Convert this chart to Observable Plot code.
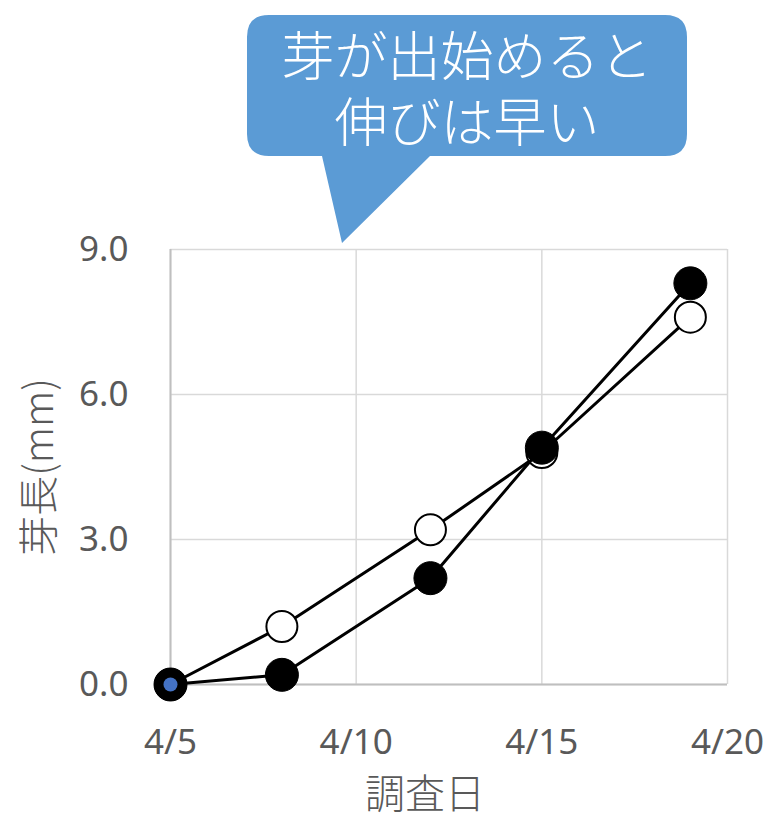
<!DOCTYPE html>
<html>
<head>
<meta charset="utf-8">
<script src="https://cdn.jsdelivr.net/npm/d3@7"></script>
<script src="https://cdn.jsdelivr.net/npm/@observablehq/plot@0.6"></script>
<style>
  html, body { margin: 0; padding: 0; background: #fff; }
  #chart { width: 772px; height: 820px; }
</style>
</head>
<body>
<div id="chart"></div>
<script>
// Survey dates and sprout lengths (mm) for the two plots
const dates = ["4/5", "4/8", "4/12", "4/15", "4/19"];
const openSeries = [0, 1.2, 3.2, 4.8, 7.6];
const filledSeries = [0, 0.2, 2.2, 4.9, 8.3];
const xTicks = ["4/5", "4/10", "4/15", "4/20"];
const yTicks = [0, 3, 6, 9];
const calloutLines = ["芽が出始めると", "伸びは早い"];
const yLabel = "芽長(mm)";
const xLabel = "調査日";

const day = s => +s.split("/")[1];
const openData = dates.map((d, i) => ({x: day(d), y: openSeries[i]}));
const filledData = dates.map((d, i) => ({x: day(d), y: filledSeries[i]}));

const grey = "#595959";
const font = "'Noto Sans', 'Noto Sans CJK JP', sans-serif";
const cjk = "'Noto Sans CJK JP', sans-serif";

const chart = Plot.plot({
  width: 772,
  height: 820,
  marginLeft: 170,
  marginRight: 45,
  marginTop: 249,
  marginBottom: 136,
  style: {fontFamily: font, fontSize: "35px", color: grey, background: "#fff", overflow: "visible"},
  x: {domain: [day(xTicks[0]), day(xTicks[xTicks.length - 1])]},
  y: {domain: [yTicks[0], yTicks[yTicks.length - 1]]},
  marks: [
    Plot.gridX(xTicks.map(day), {stroke: "#d9d9d9", strokeOpacity: 1, strokeWidth: 1.5}),
    Plot.gridY(yTicks, {stroke: "#d9d9d9", strokeOpacity: 1, strokeWidth: 1.5}),
    Plot.ruleX([day(xTicks[0])], {stroke: "#bfbfbf", strokeWidth: 2}),
    Plot.ruleY([yTicks[0]], {stroke: "#bfbfbf", strokeWidth: 2}),
    Plot.axisX({ticks: xTicks.map(day), tickFormat: d => `4/${d}`, tickSize: 0, tickPadding: 45, fill: grey, label: null}),
    Plot.axisY({ticks: yTicks, tickFormat: d => d.toFixed(1), tickSize: 0, tickPadding: 42, fill: grey, label: null}),
    // axis titles
    Plot.text([yLabel], {x: () => day(xTicks[0]), y: () => (yTicks[0] + yTicks[yTicks.length - 1]) / 2, dx: -130, rotate: -90, fontSize: 40, fill: grey, fontFamily: cjk, fontWeight: 300}),
    Plot.text([xLabel], {frameAnchor: "bottom", dy: 111, dx: -24, lineAnchor: "middle", fontSize: 40, fill: grey, fontFamily: cjk, fontWeight: 300}),
    // open-circle series
    Plot.line(openData, {x: "x", y: "y", stroke: "#000", strokeWidth: 3}),
    Plot.dot(openData, {x: "x", y: "y", r: 15.5, fill: "#fff", stroke: "#000", strokeWidth: 2}),
    // filled-circle series
    Plot.line(filledData, {x: "x", y: "y", stroke: "#000", strokeWidth: 3}),
    Plot.dot(filledData, {x: "x", y: "y", r: 16.5, fill: "#000", stroke: "#000", strokeWidth: 1}),
    Plot.dot(filledData.slice(0, 1), {x: "x", y: "y", r: 7, fill: "#4472c4"})
  ]
});

// Speech-bubble annotation above the plot
const svg = d3.select(chart);
const bx0 = 247, bx1 = 687, by0 = 15, by1 = 156, rr = 22;
const bubble = d3.path();
bubble.moveTo(bx0 + rr, by0);
bubble.lineTo(bx1 - rr, by0);
bubble.quadraticCurveTo(bx1, by0, bx1, by0 + rr);
bubble.lineTo(bx1, by1 - rr);
bubble.quadraticCurveTo(bx1, by1, bx1 - rr, by1);
bubble.lineTo(430, by1);
bubble.lineTo(342, 243);
bubble.lineTo(322, by1);
bubble.lineTo(bx0 + rr, by1);
bubble.quadraticCurveTo(bx0, by1, bx0, by1 - rr);
bubble.lineTo(bx0, by0 + rr);
bubble.quadraticCurveTo(bx0, by0, bx0 + rr, by0);
bubble.closePath();
const g = svg.append("g");
g.append("path").attr("d", bubble.toString()).attr("fill", "#5b9bd5");
const label = g.append("text")
  .attr("text-anchor", "middle")
  .attr("fill", "#fff")
  .attr("font-family", cjk)
  .attr("font-weight", 300)
  .attr("font-size", 53);
label.selectAll("tspan").data(calloutLines).join("tspan")
  .attr("x", 467)
  .attr("y", (d, i) => 57 + i * 66)
  .attr("dy", "0.35em")
  .text(d => d);

document.getElementById("chart").appendChild(chart);
</script>
</body>
</html>
